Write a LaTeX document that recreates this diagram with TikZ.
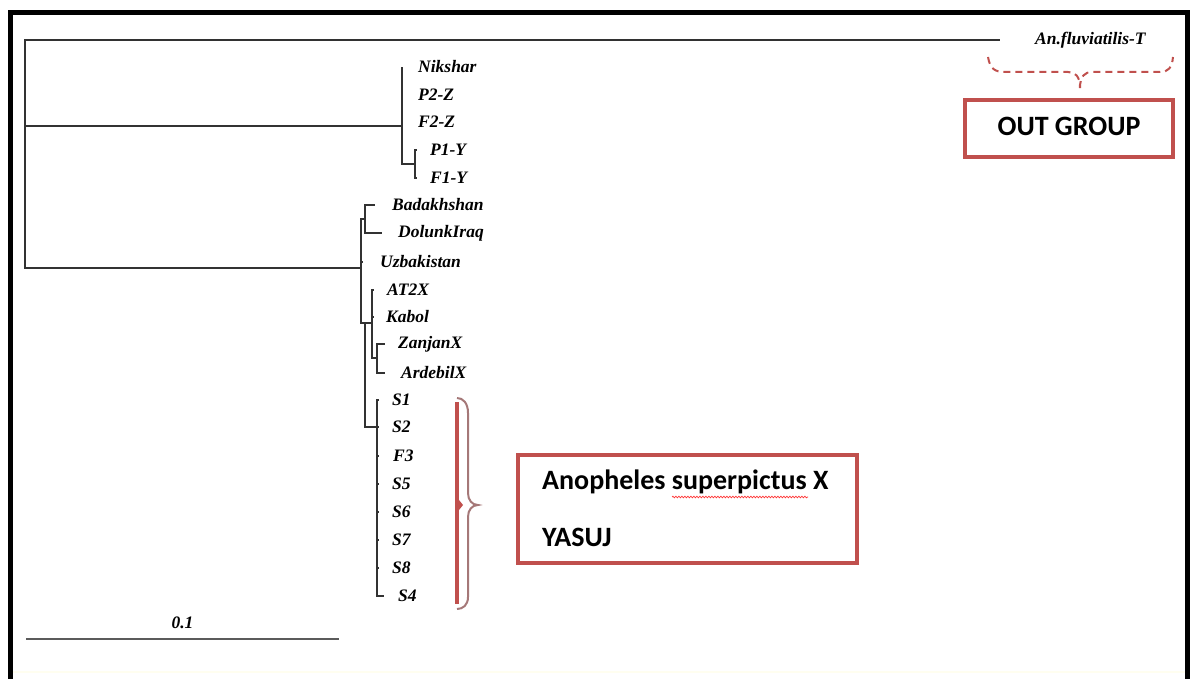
\documentclass[tikz,border=0pt]{standalone}
\usepackage{fontspec}
\setmainfont{Liberation Serif}
\newfontfamily\calib{Carlito}
\usetikzlibrary{positioning,decorations.pathmorphing}
\definecolor{boxred}{RGB}{192,80,77}
\definecolor{treegray}{RGB}{50,50,50}
\definecolor{bracegray}{RGB}{165,120,120}
\begin{document}
\begin{tikzpicture}[x=1pt,y=-1pt,
  branch/.style={draw=treegray,line width=2.1pt},
  taxon/.style={font=\fontsize{17.5}{17.5}\selectfont\bfseries\itshape,inner sep=0pt,anchor=west},
  redbox/.style={draw=boxred,line width=4pt,inner sep=0pt},
  boxtext/.style={font=\calib\bfseries\fontsize{28}{28}\selectfont,inner sep=0pt}]
  \useasboundingbox (0,0) rectangle (1192,679);
  % Cadre
  \draw[line width=5pt] (10,679) -- (10,13) -- (1187,13) -- (1187,679);
  \draw[yellow!6!white,line width=1.5pt] (13,672) -- (1185,672);

  % Noeuds internes
  \coordinate (r) at (25,154);
  \coordinate (og) at (1000,40);
  \coordinate (c1) at (402,126);
  \coordinate (c1y) at (415,164);
  \coordinate (c2) at (361,268);
  \coordinate (cA) at (365,219);
  \coordinate (cB) at (365,323);
  \coordinate (cC) at (372,323);
  \coordinate (cZ) at (377,358);
  \coordinate (cS) at (377,427);

  % Branches
  \draw[branch] (r) |- (og);
  \draw[branch] (r) |- (c1);
  \draw[branch] (r) |- (c2);
  \foreach \n/\y in {nik/67,ptz/95,ftz/122}
    \draw[branch] (c1) |- (402,\y) coordinate (t\n);
  \draw[branch] (c1) |- (c1y);
  \foreach \n/\y in {pty/150,fty/178}
    \draw[branch] (c1y) |- (417,\y) coordinate (t\n);
  \draw[branch] (c2) |- (cA);
  \draw[branch] (c2) |- (363,262) coordinate (tuzb);
  \draw[branch] (c2) |- (cB);
  \draw[branch] (cA) |- (375,205) coordinate (tbad);
  \draw[branch] (cA) |- (382,233) coordinate (tdol);
  \draw[branch] (cB) |- (cC);
  \draw[branch] (cB) |- (cS);
  \draw[branch] (cC) |- (374,290) coordinate (tat);
  \draw[branch] (cC) |- (374,317) coordinate (tkab);
  \draw[branch] (cC) |- (cZ);
  \draw[branch] (cZ) |- (385,344) coordinate (tzan);
  \draw[branch] (cZ) |- (385,373) coordinate (tard);
  \foreach \n/\y in {s1/400,s2/427,f3/456,s5/484,s6/512,s7/540,s8/568}
    \draw[branch] (cS) |- (379,\y) coordinate (t\n);
  \draw[branch] (cS) |- (384,596) coordinate (ts4);

  % Etiquettes
  \node[taxon,right=35pt of og] (Lfluv) {An.fluviatilis-T};
  \node[taxon,right=16pt of tnik] (Lnik) {Nikshar};
  \node[taxon,right=16pt of tptz] (Lptz) {P2-Z};
  \node[taxon,right=16pt of tftz] (Lftz) {F2-Z};
  \node[taxon,right=13pt of tpty] (Lpty) {P1-Y};
  \node[taxon,right=13pt of tfty] (Lfty) {F1-Y};
  \node[taxon,right=17pt of tbad] (Lbad) {Badakhshan};
  \node[taxon,right=16pt of tdol] (Ldol) {DolunkIraq};
  \node[taxon,right=17pt of tuzb] (Luzb) {Uzbakistan};
  \node[taxon,right=13pt of tat] (Lat) {AT2X};
  \node[taxon,right=12pt of tkab] (Lkab) {Kabol};
  \node[taxon,right=13pt of tzan] (Lzan) {ZanjanX};
  \node[taxon,right=16pt of tard] (Lard) {ArdebilX};
  \node[taxon,right=13pt of ts1] (Ls1) {S1};
  \node[taxon,right=13pt of ts2] (Ls2) {S2};
  \node[taxon,right=14pt of tf3] (Lf3) {F3};
  \node[taxon,right=13pt of ts5] (Ls5) {S5};
  \node[taxon,right=13pt of ts6] (Ls6) {S6};
  \node[taxon,right=13pt of ts7] (Ls7) {S7};
  \node[taxon,right=13pt of ts8] (Ls8) {S8};
  \node[taxon,right=14pt of ts4] (Ls4) {S4};

  % Echelle
  \coordinate (sb1) at (26,639);
  \coordinate (sb2) at (339,639);
  \draw[draw=treegray!80,line width=2pt] (sb1) -- (sb2) node[taxon,midway,anchor=south,above=9pt] (Lsb) {0.1};

  % Groupe externe
  \draw[boxred,dashed,dash pattern=on 7pt off 5pt,line width=2pt]
    (988,57) .. controls (990,69) and (995,72) .. (1005,72) -- (1068,72)
    .. controls (1075,72) and (1080,76) .. (1080,88);
  \draw[boxred,dashed,dash pattern=on 7pt off 5pt,line width=2pt]
    (1080,88) .. controls (1080,76) and (1085,72) .. (1092,72) -- (1160,72)
    .. controls (1168,72) and (1172,68) .. (1173,57);
  \node[redbox,minimum width=208pt,minimum height=57pt] (ogbox) at (1069,128.5) {};
  \node[boxtext] (ogtext) at (1069,126) {OUT GROUP};

  % Accolade S
  \draw[bracegray,line width=2pt]
    (457,398) .. controls (463,398) and (468,403) .. (468,413) -- (468,493)
    .. controls (468,500) and (472,505) .. (478,505)
    .. controls (472,505) and (468,510) .. (468,517) -- (468,597)
    .. controls (468,605) and (463,609) .. (457,609);
  \draw[boxred,line width=4pt] (457,402) -- (457,604);
  \fill[boxred] (455,495) -- (463,505) -- (455,515) -- cycle;

  % Boite espece
  \node[redbox,minimum width=339pt,minimum height=108pt] (spbox) at (687.5,509) {};
  \node[boxtext,anchor=west] (sp1) at (542,482) {Anopheles superpictus X};
  \node[boxtext,anchor=west] (sp2) at (542,537) {YASUJ};
  \draw[red!80,decorate,decoration={snake,amplitude=0.8pt,segment length=3pt},line width=0.7pt] (672,497) -- (808,497);
\end{tikzpicture}
\end{document}
